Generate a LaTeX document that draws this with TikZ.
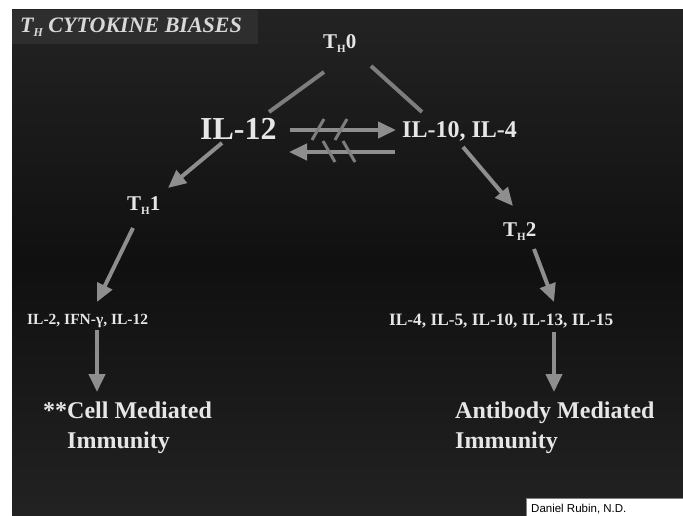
\documentclass[tikz,border=0pt]{standalone}
\usepackage{fontspec}
\setmainfont{Liberation Serif}
\newfontfamily\sansf{Liberation Sans}
\usetikzlibrary{arrows.meta,calc}
\definecolor{bgtop}{HTML}{232323}
\definecolor{bgmid}{HTML}{101010}
\definecolor{bgbot}{HTML}{222222}
\definecolor{titlebg}{HTML}{2E2E2E}
\definecolor{txt}{HTML}{E6E6E6}
\definecolor{titletxt}{HTML}{D8D8D8}
\definecolor{arr}{HTML}{8E8E8E}
\definecolor{arrdim}{HTML}{7E7E7E}
\newcommand{\fsz}[1]{\fontsize{#1}{#1}\selectfont}
\newcommand{\subH}[2]{\raisebox{-#2pt}{\fsz{#1}H}}
\begin{document}
\begin{tikzpicture}[x=1pt,y=-1pt,
  lbl/.style={inner sep=0pt, anchor=base west, text=txt},
  conn/.style={draw=arrdim, line width=4pt},
  arrw/.style={draw=arr, line width=4pt, -{Triangle[length=18pt,width=16pt]}},
  hatch/.style={draw=arrdim, line width=3pt}]
\useasboundingbox (0,0) rectangle (683,516);
\fill[white] (0,0) rectangle (683,516);
\shade[top color=bgtop, bottom color=bgbot, middle color=bgmid] (12,10) rectangle (683,516);
\fill[titlebg] (12,10) rectangle (258,44);

% labels
\node[lbl, text=titletxt, font=\bfseries\itshape\fsz{22}] (title) at (20,33) {T\subH{12}{4} CYTOKINE BIASES};
\node[lbl, font=\bfseries\fsz{21}] (th0) at (323,49) {T\subH{11}{4}0};
\node[lbl, font=\bfseries\fsz{32}] (il12) at (200,140) {IL-12};
\node[lbl, font=\bfseries\fsz{24}] (il104) at (402,138) {IL-10, IL-4};
\node[lbl, font=\bfseries\fsz{21}] (th1) at (127,211) {T\subH{11}{4}1};
\node[lbl, font=\bfseries\fsz{21}] (th2) at (503,236) {T\subH{11}{4}2};
\node[lbl, font=\bfseries\fsz{15.5}] (il2) at (27,324) {IL-2, IFN-γ, IL-12};
\node[lbl, font=\bfseries\fsz{17.3}] (il4) at (389,325) {IL-4, IL-5, IL-10, IL-13, IL-15};
\node[lbl, font=\bfseries\fsz{24}] (cell1) at (43,418) {**Cell Mediated};
\node[lbl, font=\bfseries\fsz{24}] (cell2) at (43,448) {\phantom{**}Immunity};
\node[lbl, font=\bfseries\fsz{24}] (ab1) at (455,418) {Antibody Mediated};
\node[lbl, font=\bfseries\fsz{24}] (ab2) at (455,448) {Immunity};

% connectors
\draw[conn] ($(th0.base west)+(1,23)$) -- ($(il12.base west)+(69,-28)$);
\draw[conn] ($(th0.base west)+(48,17)$) -- ($(il104.base west)+(20,-26)$);
\draw[arrw] ($(il12.base west)+(90,-10)$) -- ($(il104.base west)+(-6,-8)$);
\draw[arrw] ($(il104.base west)+(-7,14)$) -- ($(il12.base west)+(89,12)$);
\draw[arrw] ($(il12.base west)+(22,3)$) -- ($(th1.base west)+(41,-23)$);
\draw[arrw] ($(th1.base west)+(6,17)$) -- ($(il2.base west)+(70,-22)$);
\draw[arrw] ($(il2.base west)+(70,6)$) -- ($(cell1.base west)+(54,-26)$);
\draw[arrw] ($(il104.base west)+(61,9)$) -- ($(th2.base west)+(10,-30)$);
\draw[arrw] ($(th2.base west)+(31,13)$) -- ($(il4.base west)+(165,-23)$);
\draw[arrw] ($(il4.base west)+(165,7)$) -- ($(ab1.base west)+(99,-26)$);

% blocking hatches
\draw[hatch] ($(il12.base west)+(112,0)$) -- ($(il12.base west)+(124,-21)$);
\draw[hatch] ($(il12.base west)+(135,0)$) -- ($(il12.base west)+(147,-21)$);
\draw[hatch] ($(il12.base west)+(123,1)$) -- ($(il12.base west)+(135,22)$);
\draw[hatch] ($(il12.base west)+(143,1)$) -- ($(il12.base west)+(155,22)$);

% credit box
\fill[white] (526,498) rectangle (683,516);
\draw[gray, line width=1pt] (526.5,516) -- (526.5,498.5) -- (683,498.5);
\node[inner sep=0pt, anchor=base west, font=\sansf\fsz{11.5}, text=black] (rubin) at (531,512) {Daniel Rubin, N.D.};
\end{tikzpicture}
\end{document}
